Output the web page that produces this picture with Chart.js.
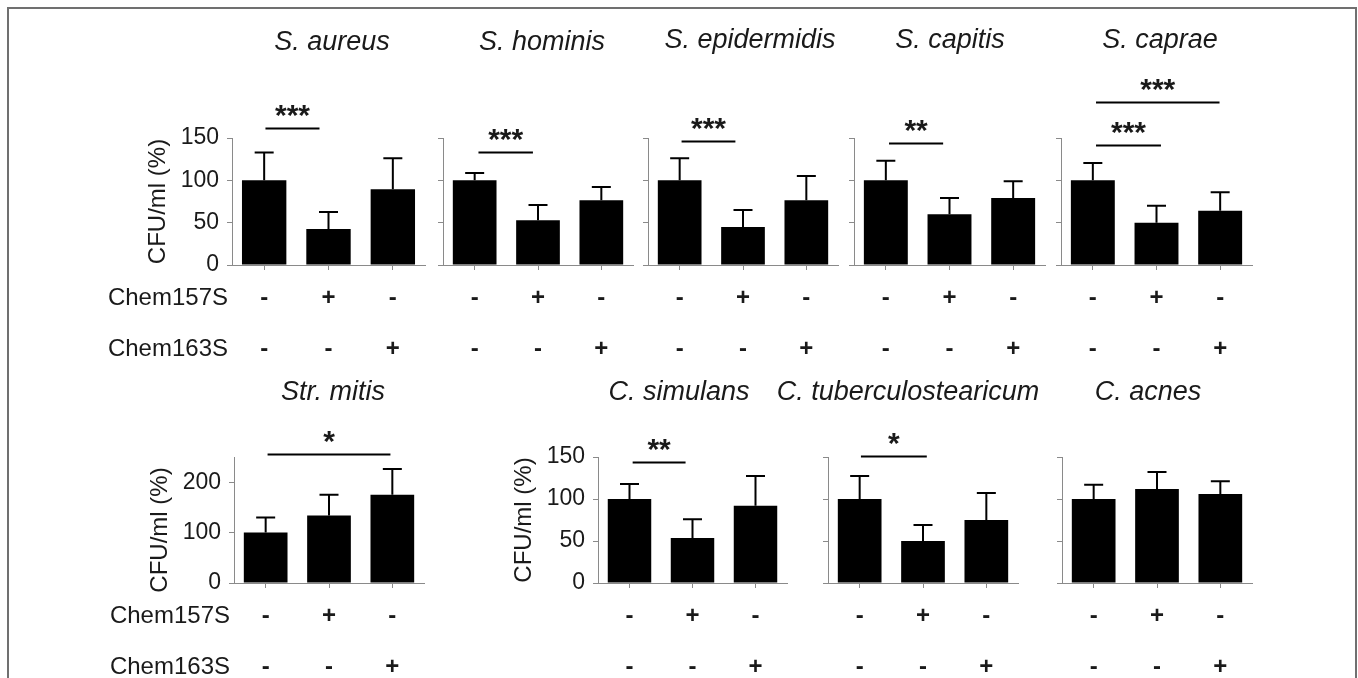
<!DOCTYPE html>
<html>
<head>
<meta charset="utf-8">
<script src="https://cdn.jsdelivr.net/npm/chart.js@4/dist/chart.umd.min.js"></script>
<style>
  body { margin: 0; background: #fff; }
  #wrap { position: relative; width: 1358px; height: 678px; overflow: hidden; background: #fff; }
  #wrap canvas { position: absolute; left: 0; top: 0; }
  #frame { position: absolute; left: 7px; top: 7px; width: 1350px; height: 700px;
           border: 2px solid #707070; box-sizing: border-box; }
</style>
</head>
<body>
<div id="wrap"><div id="frame"></div></div>
<script>
// data
const titles = ["S. aureus", "S. hominis", "S. epidermidis", "S. capitis", "S. caprae",
                "Str. mitis", "C. simulans", "C. tuberculostearicum", "C. acnes"];
const categories = ["ctrl", "Chem157S", "Chem163S"];
const chem157S = ["-", "+", "-"];
const chem163S = ["-", "-", "+"];
const means = [
  [100, 42.5, 89.5],
  [100, 53, 76.5],
  [100, 45, 76.5],
  [100, 60, 79],
  [100, 50, 64],
  [100, 134, 175],
  [100, 53.5, 92],
  [100, 50, 75],
  [100, 112, 106]
];
const errUp = [
  [33, 20, 36.5],
  [8.6, 18, 15.5],
  [26, 20, 28.5],
  [23, 19, 20],
  [20.5, 20, 22],
  [30, 41, 51],
  [18, 22.5, 35.5],
  [27.5, 19, 32],
  [17, 20, 15]
];
const yMax = [150, 150, 150, 150, 150, 250, 150, 150, 150];
const yStep = [50, 50, 50, 50, 50, 100, 50, 50, 50];
// significance brackets: category from/to, height in axis units, label
const signif = [
  [{ from: 0.02, to: 0.86, level: 162, text: "***" }],
  [{ from: 0.06, to: 0.92, level: 133.5, text: "***" }],
  [{ from: 0.03, to: 0.88, level: 146.5, text: "***" }],
  [{ from: 0.05, to: 0.9, level: 144, text: "**" }],
  [{ from: 0.05, to: 1.07, level: 141.7, text: "***" }, { from: 0.05, to: 1.99, level: 192.5, text: "***" }],
  [{ from: 0.03, to: 1.97, level: 256, text: "*" }],
  [{ from: 0.05, to: 0.89, level: 144, text: "**" }],
  [{ from: 0.02, to: 1.06, level: 151, text: "*" }],
  []
];

// panel placement on the page
const W = 1358, H = 678, YW = 60, XH = 6;
const layout = [
  { x0: 232, x1: 425, top: 138, base: 265, tx: 332, ty: 42, labels: true },
  { x0: 443, x1: 633, top: 138, base: 265, tx: 542, ty: 42 },
  { x0: 648, x1: 838, top: 138, base: 265, tx: 750, ty: 40 },
  { x0: 854, x1: 1045, top: 138, base: 265, tx: 950, ty: 40 },
  { x0: 1061, x1: 1252, top: 138, base: 265, tx: 1160, ty: 40 },
  { x0: 234, x1: 424, top: 457, base: 583, tx: 333, ty: 392, labels: true, titleDy: 10 },
  { x0: 598, x1: 787, top: 457, base: 583, tx: 679, ty: 392, ticksOnly: true },
  { x0: 828, x1: 1018, top: 457, base: 583, tx: 908, ty: 392 },
  { x0: 1062, x1: 1252, top: 457, base: 583, tx: 1148, ty: 392 }
];

const FONT = "'Liberation Sans', Arial, sans-serif";
const TXT = "#1a1a1a";
const AX = "#8a8a8a";

const extras = {
  id: "extras",
  afterDatasetsDraw(chart, args, opts) {
    const p = opts.panel;
    const L = layout[p];
    const xs = chart.scales.x, ys = chart.scales.y;
    const ctx = chart.ctx;
    ctx.save();
    // error bars (upper half only)
    ctx.strokeStyle = "#000";
    ctx.lineWidth = 2;
    means[p].forEach((m, i) => {
      const x = xs.getPixelForValue(i);
      const y1 = ys.getPixelForValue(m);
      const y2 = ys.getPixelForValue(m + errUp[p][i]);
      ctx.beginPath();
      ctx.moveTo(x, y1); ctx.lineTo(x, y2);
      ctx.moveTo(x - 9.5, y2); ctx.lineTo(x + 9.5, y2);
      ctx.stroke();
    });
    // significance
    signif[p].forEach(s => {
      const a = xs.getPixelForValue(0) + (xs.getPixelForValue(1) - xs.getPixelForValue(0)) * s.from;
      const b = xs.getPixelForValue(0) + (xs.getPixelForValue(1) - xs.getPixelForValue(0)) * s.to;
      const y = Math.round(ys.getPixelForValue(s.level)) + 0.5;
      ctx.lineWidth = 2;
      ctx.beginPath(); ctx.moveTo(a, y); ctx.lineTo(b, y); ctx.stroke();
      ctx.fillStyle = TXT;
      ctx.font = "bold 30px " + FONT;
      ctx.textAlign = "center";
      ctx.textBaseline = "alphabetic";
      ctx.fillText(s.text, (a + b) / 2, y - 4);
    });
    // title
    ctx.fillStyle = TXT;
    ctx.font = "italic 27px " + FONT;
    ctx.textAlign = "center";
    ctx.textBaseline = "middle";
    ctx.fillText(titles[p], L.tx, L.ty);
    // +/- rows
    const bottom = chart.chartArea.bottom;
    ctx.font = "bold 24px " + FONT;
    categories.forEach((c, i) => {
      const x = xs.getPixelForValue(i);
      ctx.fillText(chem157S[i], x, bottom + 33);
      ctx.fillText(chem163S[i], x, bottom + 84);
    });
    if (L.labels) {
      ctx.font = "24px " + FONT;
      ctx.textAlign = "right";
      ctx.fillText("Chem157S", L.x0 - 4, bottom + 33);
      ctx.fillText("Chem163S", L.x0 - 4, bottom + 84);
    }
    if (L.labels || L.ticksOnly) {
      ctx.translate(L.x0 - 74, (L.top + L.base) / 2 + (L.titleDy || 0));
      ctx.rotate(-Math.PI / 2);
      ctx.font = "24px " + FONT;
      ctx.textAlign = "center";
      ctx.fillText("CFU/ml (%)", 0, 0);
    }
    ctx.restore();
  }
};

layout.forEach((L, p) => {
  const cv = document.createElement("canvas");
  cv.width = W; cv.height = H;
  document.getElementById("wrap").appendChild(cv);
  const showTicks = !!(L.labels || L.ticksOnly);
  new Chart(cv.getContext("2d"), {
    type: "bar",
    data: {
      labels: categories,
      datasets: [{
        data: means[p],
        backgroundColor: "#000",
        borderWidth: 0,
        barPercentage: 0.69,
        categoryPercentage: 1
      }]
    },
    options: {
      responsive: false,
      animation: false,
      events: [],
      layout: { padding: { left: L.x0 - YW, top: L.top, right: W - L.x1, bottom: H - L.base - XH } },
      plugins: { legend: { display: false }, tooltip: { enabled: false }, extras: { panel: p } },
      scales: {
        x: {
          offset: true,
          afterFit: s => { s.height = XH; },
          grid: { offset: false, drawOnChartArea: false, drawTicks: true, tickLength: 5, color: AX },
          border: { color: AX, width: 1 },
          ticks: { display: false }
        },
        y: {
          min: 0, max: yMax[p],
          afterFit: s => { s.width = YW; },
          grid: { drawOnChartArea: false, drawTicks: true, tickLength: 5, color: AX },
          border: { color: AX, width: 1 },
          ticks: {
            display: showTicks, stepSize: yStep[p], includeBounds: false,
            color: TXT, padding: 8, font: { family: FONT, size: 23 }
          }
        }
      }
    },
    plugins: [extras]
  });
});
</script>
</body>
</html>
